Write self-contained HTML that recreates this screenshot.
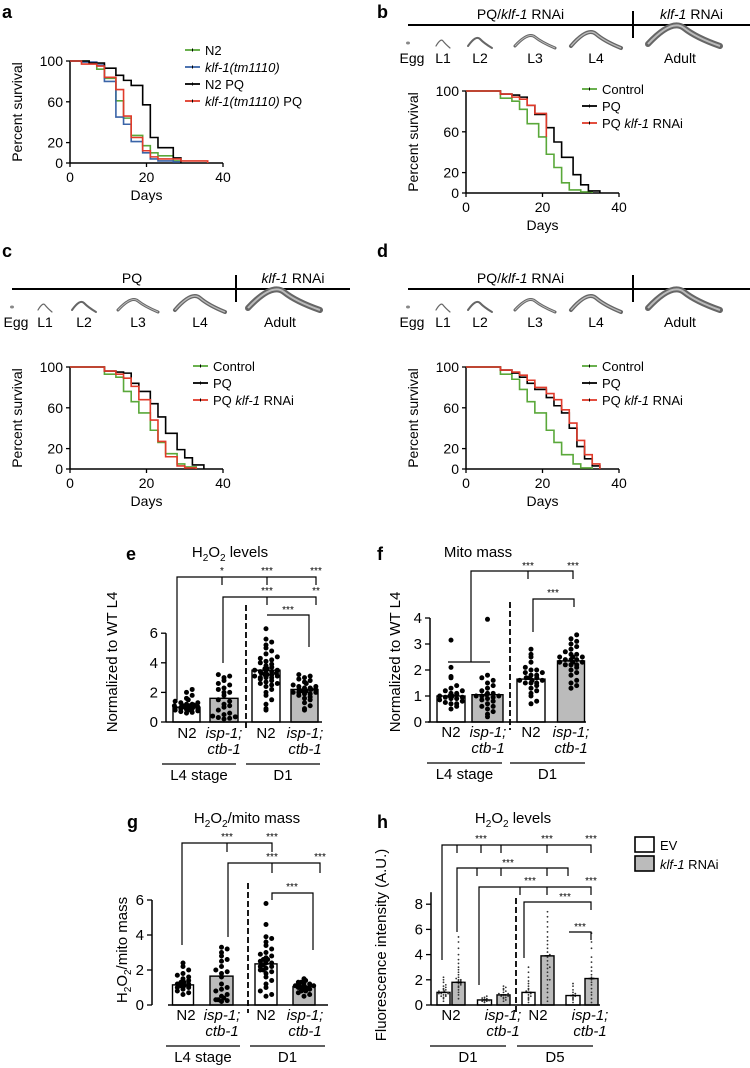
<!DOCTYPE html>
<html><head><meta charset="utf-8"><style>
html,body{margin:0;padding:0;background:#fff}
svg{display:block;font-family:"Liberation Sans",Arial,sans-serif}
</style></head><body>
<svg id="fig" width="750" height="1068" viewBox="0 0 750 1068" xmlns="http://www.w3.org/2000/svg">
<g fill="#000" font-weight="bold" font-size="18">
<text x="2" y="18">a</text>
<text x="377" y="18">b</text>
<text x="2" y="257">c</text>
<text x="377" y="257">d</text>
<text x="126" y="560">e</text>
<text x="377" y="560">f</text>
<text x="127" y="828">g</text>
<text x="377" y="828">h</text>
</g>
<g id="root"></g>
</svg>
<script>
// ---------- survival data ----------
const aN2 = [[0,100],[5,98],[7,92],[9,83],[12,61],[14,44],[16,27],[19,17],[21,10],[23,7],[27,2],[29,0]];
const aKlf = [[0,100],[3,99],[7,96],[9,80],[12,45],[14,38],[16,21],[19,10],[21,4],[23,2],[27,1],[29,0]];
const aN2PQ = [[0,100],[5,98],[9,93],[12,86],[14,81],[16,76],[19,57],[21,25],[23,15],[27,5],[29,0]];
const aKlfPQ = [[0,100],[3,97],[7,95],[9,84],[12,72],[14,46],[16,25],[19,12],[21,6],[23,4],[29,2],[36,0]];
const bCtrl = [[0,100],[9,93],[12,90],[14,82],[16,68],[19,55],[21,38],[23,25],[25,10],[27,3],[30,1],[33,0]];
const bPQ = [[0,100],[9,97],[12,96],[14,94],[16,86],[18,77],[21,64],[23,50],[25,35],[28,18],[30,8],[32,2],[35,0]];
const bPQK = [[0,100],[9,97],[12,94],[14,92],[16,86],[18,78],[21,55]];
const cCtrl = [[0,100],[9,93],[12,90],[14,76],[16,66],[18,55],[21,38],[23,26],[25,15],[28,5],[30,2],[33,0]];
const cPQ = [[0,100],[9,96],[12,95],[14,94],[16,84],[18,76],[21,64],[23,51],[25,35],[28,19],[30,11],[32,4],[35,0]];
const cPQK = [[0,100],[9,96],[12,93],[14,89],[16,81],[18,68],[21,48],[23,27],[25,12],[28,3],[30,1],[33,0]];
const dCtrl = [[0,100],[9,93],[12,88],[14,78],[16,66],[18,55],[21,38],[23,26],[25,14],[28,5],[30,1],[33,0]];
const dPQ = [[0,100],[9,97],[12,94],[14,90],[16,84],[18,78],[21,70],[23,62],[25,55],[27,40],[29,22],[31,10],[33,3],[35,0]];
const dPQK = [[0,100],[9,97],[12,95],[14,92],[16,87],[18,80],[21,74],[23,68],[25,58],[27,45],[29,28],[31,14],[33,5],[35,0]];
const survXTicks = [0,20,40];
const survYTicks = [0,20,60,100];
// ---------- bar data ----------
const eMeans = [1.0,1.6,3.5,2.2];
const eN2 = [0.6,0.7,0.75,0.8,0.8,0.85,0.9,0.9,0.95,1,1,1,1.05,1.1,1.1,1.15,1.2,1.2,1.3,1.3,1.4,1.5,1.6,1.8,2.0,2.2,0.65,0.9,1.0,1.1];
const eIsp = [0.2,0.25,0.3,0.35,0.5,0.6,0.8,1.0,1.2,1.4,1.5,1.8,2.0,2.2,2.3,2.5,2.6,2.8,3.0,3.1,3.2,0.4,1.1,2.0];
const eN2D1 = [0.8,0.9,1.2,1.5,1.8,2.0,2.2,2.4,2.5,2.6,2.7,2.8,2.9,3.0,3.0,3.1,3.1,3.2,3.2,3.3,3.3,3.4,3.4,3.5,3.5,3.6,3.6,3.7,3.8,3.9,4.0,4.1,4.2,4.4,4.6,4.8,5.0,5.2,5.4,5.6,3.0,3.2,3.4,2.6,4.3,6.3];
const eIspD1 = [0.8,0.9,1.1,1.3,1.5,1.6,1.7,1.8,1.9,2.0,2.0,2.1,2.1,2.2,2.2,2.3,2.3,2.4,2.5,2.6,2.7,2.8,2.9,3.0,3.1,3.2,2.0,2.2,2.4,1.9];
const eYTicks = [0,2,4,6];
const fMeans = [1.0,1.05,1.65,2.35];
const fN2 = [0.5,0.6,0.7,0.75,0.8,0.85,0.9,0.9,0.95,1,1,1,1.05,1.1,1.1,1.2,1.2,1.3,1.4,1.7,1.75,2.1,3.15,0.7,0.95];
const fIsp = [0.2,0.3,0.4,0.5,0.6,0.7,0.8,0.85,0.9,0.95,1,1,1.05,1.1,1.1,1.2,1.3,1.4,1.5,1.6,1.7,1.8,3.95,0.6,1.0];
const fN2D1 = [0.7,0.8,1.0,1.1,1.2,1.3,1.4,1.5,1.5,1.6,1.6,1.7,1.7,1.8,1.8,1.9,1.9,2.0,2.0,2.1,2.3,2.5,2.6,2.8,1.6,1.7,1.5];
const fIspD1 = [1.3,1.4,1.5,1.6,1.8,1.9,2.0,2.1,2.2,2.2,2.3,2.3,2.4,2.4,2.5,2.5,2.6,2.6,2.7,2.8,2.9,3.0,3.1,3.2,3.35,2.3,2.4,2.2,2.5];
const fYTicks = [0,1,2,3,4];
const gMeans = [1.15,1.65,2.35,1.05];
const gN2 = [0.6,0.7,0.8,0.9,1.0,1.0,1.1,1.1,1.2,1.2,1.3,1.3,1.4,1.5,1.6,1.7,1.8,2.0,2.2,2.4,1.1,1.2];
const gIsp = [0.2,0.25,0.3,0.4,0.5,0.6,0.8,0.9,1.0,1.2,1.6,1.8,2.0,2.2,2.5,2.6,2.8,3.0,3.2,3.3,0.3,1.9];
const gN2D1 = [0.5,0.6,0.8,1.0,1.2,1.4,1.6,1.8,1.9,2.0,2.1,2.2,2.3,2.4,2.5,2.6,2.7,2.8,2.9,3.0,3.2,3.4,3.6,3.8,3.9,4.6,5.8,2.2,2.4,2.0,2.6];
const gIspD1 = [0.5,0.6,0.7,0.8,0.9,0.9,1.0,1.0,1.0,1.1,1.1,1.1,1.2,1.2,1.3,1.3,1.4,1.5,1.0,0.8];
const gYTicks = [0,2,4,6];
const hMeans = [1.0,1.8,0.4,0.8,1.0,3.9,0.75,2.1];
const hN2EV = [0.3,0.5,0.6,0.7,0.8,0.8,0.9,0.9,1.0,1.0,1.0,1.1,1.1,1.2,1.2,1.3,1.4,1.5,1.6,1.8,2.0,2.2,0.7,1.0,0.9];
const hN2K = [0.5,0.8,1.0,1.2,1.4,1.5,1.6,1.7,1.8,1.8,1.9,2.0,2.0,2.1,2.2,2.4,2.6,2.8,3.0,3.3,3.6,4.0,4.5,5.0,5.4,1.9,1.7];
const hIspEV = [0.2,0.25,0.3,0.3,0.35,0.4,0.4,0.45,0.5,0.55,0.6,0.7];
const hIspK = [0.3,0.4,0.5,0.6,0.7,0.7,0.8,0.8,0.9,0.9,1.0,1.1,1.2,1.3,1.4,1.5,0.8,0.6];
const hN2D5EV = [0.2,0.4,0.5,0.6,0.7,0.8,0.9,1.0,1.0,1.1,1.2,1.3,1.5,1.7,1.9,2.2,2.6,3.0];
const hN2D5K = [0.3,0.6,1.0,1.3,1.6,2.0,2.3,2.6,2.9,3.2,3.5,3.8,4.0,4.2,4.5,4.8,5.1,5.4,5.8,6.2,6.6,7.0,7.4,3.9,2.0,3.0];
const hIspD5EV = [0.2,0.4,0.5,0.6,0.7,0.8,0.9,1.0,1.2,1.5,1.7];
const hIspD5K = [0.2,0.5,0.8,1.0,1.3,1.6,1.8,2.0,2.2,2.4,2.7,3.0,3.4,3.8,4.5,5.0,5.7,2.1];
const hYTicks = [0,2,4,6,8];

const NS = "http://www.w3.org/2000/svg";
const root = document.getElementById('root');
function el(tag, attrs, parent, txt){
  const e = document.createElementNS(NS, tag);
  for (const k in attrs) e.setAttribute(k, attrs[k]);
  if (txt !== undefined) e.textContent = txt;
  (parent || root).appendChild(e);
  return e;
}
function line(x1,y1,x2,y2,w,p,extra){
  return el('line',Object.assign({x1,y1,x2,y2,stroke:'#000','stroke-width':w||1.2},extra||{}),p);
}
function text(x,y,s,size,anchor,p,extra){
  return el('text',Object.assign({x,y,'font-size':size||13,'text-anchor':anchor||'middle',fill:'#000'},extra||{}),p,s);
}
// parts: [text, dy, isSub]
function addParts(t, parts, size){
  parts.forEach(p=>{
    const a = {'font-size': p[2] ? Math.round(size*0.68) : size};
    if (p[1]) a.dy = p[1];
    el('tspan',a,t,p[0]);
  });
}

// ---------- survival panels ----------
function survival(name, ox, y0, series, legendX, legendY){
  const g = el('g',{});
  
  
  const X = d => ox + d/40*153;
  const Y = p => y0 - p/100*102;
  const ya = line(X(0), Y(100), X(0), Y(0), 1.5, g);
   
  const xa = line(X(0), Y(0), X(40), Y(0), 1.5, g);
   
  survYTicks.forEach(t=>{ line(X(0)-4,Y(t),X(0),Y(t),1.3,g); const tl=text(X(0)-7,Y(t)+5,String(t),14,'end',g);
      });
  survXTicks.forEach(t=>{ line(X(t),Y(0),X(t),Y(0)+4,1.3,g); const tl=text(X(t),Y(0)+19,String(t),14,'middle',g);
      });
  const xt = text(X(20), Y(0)+37, 'Days', 14, 'middle', g);
   
  const yt = text(0,0,'Percent survival',14,'middle',g,{transform:`translate(${ox-48},${(Y(0)+Y(100))/2}) rotate(-90)`});
   
  series.forEach((s,i)=>{
    let d = `M${X(s.pts[0][0])},${Y(s.pts[0][1])}`;
    for (let k=1;k<s.pts.length;k++){ d += ` H${X(s.pts[k][0])} V${Y(s.pts[k][1])}`; }
    const p = el('path',{d,fill:'none',stroke:s.color,'stroke-width':1.6},g);
    
    
    const ly = legendY + i*17;
    line(legendX, ly, legendX+15, ly, 1.8, g, {stroke:s.color});
    line(legendX+7.5, ly-1.5, legendX+7.5, ly+1.5, 1, g);
    const lt = el('text',{x:legendX+20,y:ly+5,'font-size':13,fill:'#000'},g);
    
    
    s.label.forEach(part=>{ el('tspan',part[1]?{'font-style':'italic'}:{},lt,part[0]); });
  });
}
const G='#5aa83a', B='#3a64a8', R='#e03a2a', K='#000';
survival('survival-a',70,163,[
 {key:'n2',color:G,pts:aN2,label:[['N2',0]]},
 {key:'klf1',color:B,pts:aKlf,label:[['klf-1(tm1110)',1]]},
 {key:'n2-pq',color:K,pts:aN2PQ,label:[['N2 PQ',0]]},
 {key:'klf1-pq',color:R,pts:aKlfPQ,label:[['klf-1(tm1110)',1],[' PQ',0]]}
],185,50);
const trio = (c,p,k)=>[
 {key:'control',color:G,pts:c,label:[['Control',0]]},
 {key:'pq',color:K,pts:p,label:[['PQ',0]]},
 {key:'pq-klf1',color:R,pts:k,label:[['PQ ',0],['klf-1',1],[' RNAi',0]]}];
survival('survival-b',466,193,trio(bCtrl,bPQ,bPQK),582,89);
survival('survival-c',70,469,trio(cCtrl,cPQ,cPQK),193,366);
survival('survival-d',466,469,trio(dCtrl,dPQ,dPQK),582,366);

// ---------- timelines ----------
function worm(x,y,w,h,s,g){
  const d = `M${x-w/2},${y} Q${x-w/6},${y-h*1.6} ${x},${y-h} T${x+w/2},${y+2}`;
  el('path',{d,fill:'none',stroke:'#666','stroke-width':s,'stroke-linecap':'round'},g);
  if (s>2) el('path',{d,fill:'none',stroke:'#bbb','stroke-width':s/3},g);
}
function timeline(name, x1, x2, ly, vx, left, right, labY, stages){
  const g = el('g',{});
  
  
  line(x1,ly,x2,ly,2,g); line(vx,ly-14,vx,ly+13,2,g);
  const t1 = el('text',{x:(x1+vx)/2+(x1<100?8:0),y:ly-6,'font-size':14,'text-anchor':'middle'},g);
   
  left.forEach(p=>el('tspan',p[1]?{'font-style':'italic'}:{},t1,p[0]));
  const t2 = el('text',{x:(vx+x2)/2,y:ly-6,'font-size':14,'text-anchor':'middle'},g);
   
  right.forEach(p=>el('tspan',p[1]?{'font-style':'italic'}:{},t2,p[0]));
  stages.forEach(s=>{
    const st = text(s[1], labY, s[0], 14, 'middle', g);
    
    
    if (s[0]==='Egg') el('ellipse',{cx:s[1]-4,cy:labY-20,rx:2,ry:1.5,fill:'#888'},g);
    else worm(s[1]+(s[2]||0), labY-17+(s[0]==='Adult'?-2:0), s[3], s[4], s[5], g);
  });
}
timeline('timeline-b',408,750,25,633,[['PQ/',0],['klf-1',1],[' RNAi',0]],[['klf-1',1],[' RNAi',0]],63,
 [['Egg',412],['L1',443,0,14,5,1.2],['L2',480,0,24,7,2],['L3',535,0,40,9,3],['L4',596,0,50,12,4],['Adult',680,4,72,16,6]]);
timeline('timeline-c',12,350,289,236,[['PQ',0]],[['klf-1',1],[' RNAi',0]],327,
 [['Egg',16],['L1',45,0,14,5,1.2],['L2',84,0,24,7,2],['L3',138,0,40,9,3],['L4',200,0,50,12,4],['Adult',280,4,72,16,6]]);
timeline('timeline-d',408,750,289,633,[['PQ/',0],['klf-1',1],[' RNAi',0]],[],327,
 [['Egg',412],['L1',443,0,14,5,1.2],['L2',480,0,24,7,2],['L3',535,0,40,9,3],['L4',596,0,50,12,4],['Adult',680,4,72,16,6]]);

// ---------- bar/dot panels ----------
function swarm(vals, cx, half, Yf, r, g, name){
  const step = 2*r+0.4;
  const bins = {};
  vals.slice().sort((a,b)=>a-b).forEach(v=>{
    const y = Yf(v);
    const k = Math.round(y/step);
    const n = bins[k] = (bins[k]||0)+1;
    const idx = n-1;
    let off = (idx===0)?0:Math.ceil(idx/2)*step*1.05*(idx%2?1:-1);
    while (Math.abs(off) > half) off = off - Math.sign(off)*half*1.3 + (idx%3-1);
    const c = el('circle',{cx:cx+off,cy:y,r:r,fill:r<1.5?'#333':'#000'},g);
    
    
  });
}
function barPanel(cfg){
  const g = el('g',{});
  
  
  const Y = v => cfg.y0 - v*cfg.ppu;
  const top = cfg.ticks[cfg.ticks.length-1];
  const ya = line(cfg.ax, Y(top)-(cfg.extra||0), cfg.ax, cfg.y0, 1.5, g);
   
  cfg.ticks.forEach(t=>{ line(cfg.ax-5,Y(t),cfg.ax,Y(t),1.3,g);
    const tl=text(cfg.ax-8,Y(t)+5,String(t),15,'end',g);
      });
  cfg.bars.forEach((b,i)=>{
    const rc = el('rect',{x:b.cx-b.w/2,y:Y(cfg.means[i]),width:b.w,height:cfg.means[i]*cfg.ppu,fill:b.fill,stroke:'#000','stroke-width':1.4},g);
    
    
    swarm(b.vals, b.cx, b.w/2-1, Y, cfg.r, g, b.key);
    line(b.cx-3,Y(cfg.means[i]),b.cx+3,Y(cfg.means[i]),1.4,g);
  });
  const xa = line(cfg.bx1, cfg.y0, cfg.bx2, cfg.y0, 1.5, g);
   
  const ds = line(cfg.dash[0], cfg.dash[1], cfg.dash[0], cfg.y0+8, 1.8, g, {'stroke-dasharray':'6,3'});
   
  const yt = el('text',{'text-anchor':'middle',transform:`translate(${cfg.ytX},${cfg.ytY}) rotate(-90)`},g);
   
  addParts(yt, cfg.ytitle, 15);
  return g;
}
function titleSub(x,y,parts,name){
  const t = el('text',{x,y,'text-anchor':'middle'});
  
  
  addParts(t, parts, 15);
}
const H2O2 = [['H',0,0],['2',4,1],['O',-4,0],['2',4,1],[' levels',-4,0]];
const H2O2MM = [['H',0,0],['2',4,1],['O',-4,0],['2',4,1],['/mito mass',-4,0]];
function groupLabels(g, xs, y, groups){
  xs.forEach(x=>{ const a=text(x[0],y,x[1]?'isp-1;':'N2',15,'middle',g,x[1]?{'font-style':'italic'}:{});
     
    if (x[1]) text(x[0],y+16,'ctb-1',15,'middle',g,{'font-style':'italic'}); });
  groups.forEach(gr=>{ line(gr[0],y+26,gr[1],y+26,1.3,g);
    const t=text((gr[0]+gr[1])/2,y+42,gr[2],15,'middle',g);
      });
}
function bracket(pts, stars, g){
  el('path',{d:pts,fill:'none',stroke:'#000','stroke-width':1.2},g);
  stars.forEach(s=>{ const t=text(s[0],s[1]+4,s[2],10,'middle',g);   });
}

// panel e
titleSub(230,557,H2O2,'title-e');
let ge = barPanel({name:'panel-e',ax:166,y0:722,ppu:14.8,ticks:eYTicks,means:eMeans,r:2.5,bx1:166,bx2:322,dash:[246,605],
 ytitle:[['Normalized to WT L4',0,0]],ytX:117,ytY:662,
 bars:[{key:'e-n2-l4',cx:186.5,w:27,fill:'#fff',vals:eN2},{key:'e-isp-l4',cx:224,w:28,fill:'#bbb',vals:eIsp},
       {key:'e-n2-d1',cx:266,w:28,fill:'#fff',vals:eN2D1},{key:'e-isp-d1',cx:304.5,w:27,fill:'#bbb',vals:eIspD1}]});
groupLabels(ge,[[187,0],[224,1],[266,0],[305,1]],738,[[162,236,'L4 stage'],[246,320,'D1']]);
bracket('M177,700 V577 H316 V585 M222,577 V585 M267,577 V585',[[222,570,'*'],[267,570,'***'],[316,570,'***']],ge);
bracket('M223,663 V597 H316 V605 M267,597 V605',[[267,590,'***'],[316,590,'**']],ge);
bracket('M267,615 H309 V647',[[288,609,'***']],ge);

// panel f
titleSub(478,557,[['Mito mass',0,0]],'title-f');
let gf = barPanel({name:'panel-f',ax:430,y0:722,ppu:26,ticks:fYTicks,means:fMeans,r:2.5,bx1:428,bx2:586,dash:[510,602],
 ytitle:[['Normalized to WT L4',0,0]],ytX:400,ytY:662,
 bars:[{key:'f-n2-l4',cx:451,w:28,fill:'#fff',vals:fN2},{key:'f-isp-l4',cx:487.5,w:31,fill:'#bbb',vals:fIsp},
       {key:'f-n2-d1',cx:531,w:28,fill:'#fff',vals:fN2D1},{key:'f-isp-d1',cx:571,w:27,fill:'#bbb',vals:fIspD1}]});
groupLabels(gf,[[451,0],[488,1],[531,0],[571,1]],737,[[427,502,'L4 stage'],[510,585,'D1']]);
bracket('M448,662 H490 M471,662 V571 H573 V579 M528,571 V579',[[528,565,'***'],[573,565,'***']],gf);
bracket('M533,632 V599 H574 V607',[[553,592,'***']],gf);

// panel g
titleSub(247,823,H2O2MM,'title-g');
let gg = barPanel({name:'panel-g',ax:152,y0:1005,ppu:17.5,ticks:gYTicks,means:gMeans,r:2.5,bx1:168,bx2:328,dash:[248,883],
 ytitle:H2O2MM,ytX:127,ytY:950,
 bars:[{key:'g-n2-l4',cx:183,w:21,fill:'#fff',vals:gN2},{key:'g-isp-l4',cx:221.5,w:23,fill:'#bbb',vals:gIsp},
       {key:'g-n2-d1',cx:266,w:22,fill:'#fff',vals:gN2D1},{key:'g-isp-d1',cx:304,w:22,fill:'#bbb',vals:gIspD1}]});
groupLabels(gg,[[186,0],[222,1],[266,0],[305,1]],1020,[[166,240,'L4 stage'],[250,325,'D1']]);
bracket('M182,945 V843 H272 V852 M227,843 V852',[[227,836,'***'],[272,836,'***']],gg);
bracket('M228,937 V863 H320 V873 M272,863 V873',[[272,856,'***'],[320,856,'***']],gg);
bracket('M272,900 V893 H313 V950',[[292,886,'***']],gg);

// panel h
titleSub(513,823,H2O2,'title-h');
let gh = barPanel({name:'panel-h',ax:431,y0:1005,ppu:12.6,ticks:hYTicks,means:hMeans,r:0.9,bx1:431,bx2:600,dash:[516,898],extra:12,
 ytitle:[['Fluorescence intensity (A.U.)',0,0]],ytX:386,ytY:945,
 bars:[{key:'h-n2-d1-ev',cx:443.5,w:13,fill:'#fff',vals:hN2EV},{key:'h-n2-d1-klf1',cx:458.5,w:13,fill:'#bbb',vals:hN2K},
       {key:'h-isp-d1-ev',cx:484.5,w:14,fill:'#fff',vals:hIspEV},{key:'h-isp-d1-klf1',cx:503.5,w:13,fill:'#bbb',vals:hIspK},
       {key:'h-n2-d5-ev',cx:528.5,w:13,fill:'#fff',vals:hN2D5EV},{key:'h-n2-d5-klf1',cx:547.5,w:13,fill:'#bbb',vals:hN2D5K},
       {key:'h-isp-d5-ev',cx:573,w:14,fill:'#fff',vals:hIspD5EV},{key:'h-isp-d5-klf1',cx:591.5,w:13,fill:'#bbb',vals:hIspD5K}]});
groupLabels(gh,[[451,0],[503,1],[538,0],[590,1]],1020,[[430,506,'D1'],[517,593,'D5']]);
bracket('M442,960 V845 H591 V853 M457,845 V853 M481,845 V853 M501,845 V853 M547,845 V853',[[481,838,'***'],[547,838,'***'],[591,838,'***']],gh);
bracket('M457,932 V868 H568 V876 M477,868 V876 M501,868 V876 M547,868 V876',[[508,862,'***']],gh);
bracket('M479,985 V887 H591 V895 M520,887 V895 M547,887 V895',[[530,880,'***'],[591,880,'***']],gh);
bracket('M524,958 V902 H591 V910',[[565,896,'***']],gh);
bracket('M569,932 H591 V940',[[580,926,'***']],gh);
// legend h
const lg = el('g',{});


const l1 = el('rect',{x:635,y:837,width:19,height:15,fill:'#fff',stroke:'#000','stroke-width':1.6},lg);
 
const l2 = el('rect',{x:635,y:856,width:19,height:15,fill:'#bbb',stroke:'#000','stroke-width':1.6},lg);
 
const lt1 = text(660,850,'EV',13,'start',lg);
 
const lt2 = el('text',{x:660,y:869,'font-size':13},lg);
 
el('tspan',{'font-style':'italic'},lt2,'klf-1');
el('tspan',{},lt2,' RNAi');
</script>
</body></html>
